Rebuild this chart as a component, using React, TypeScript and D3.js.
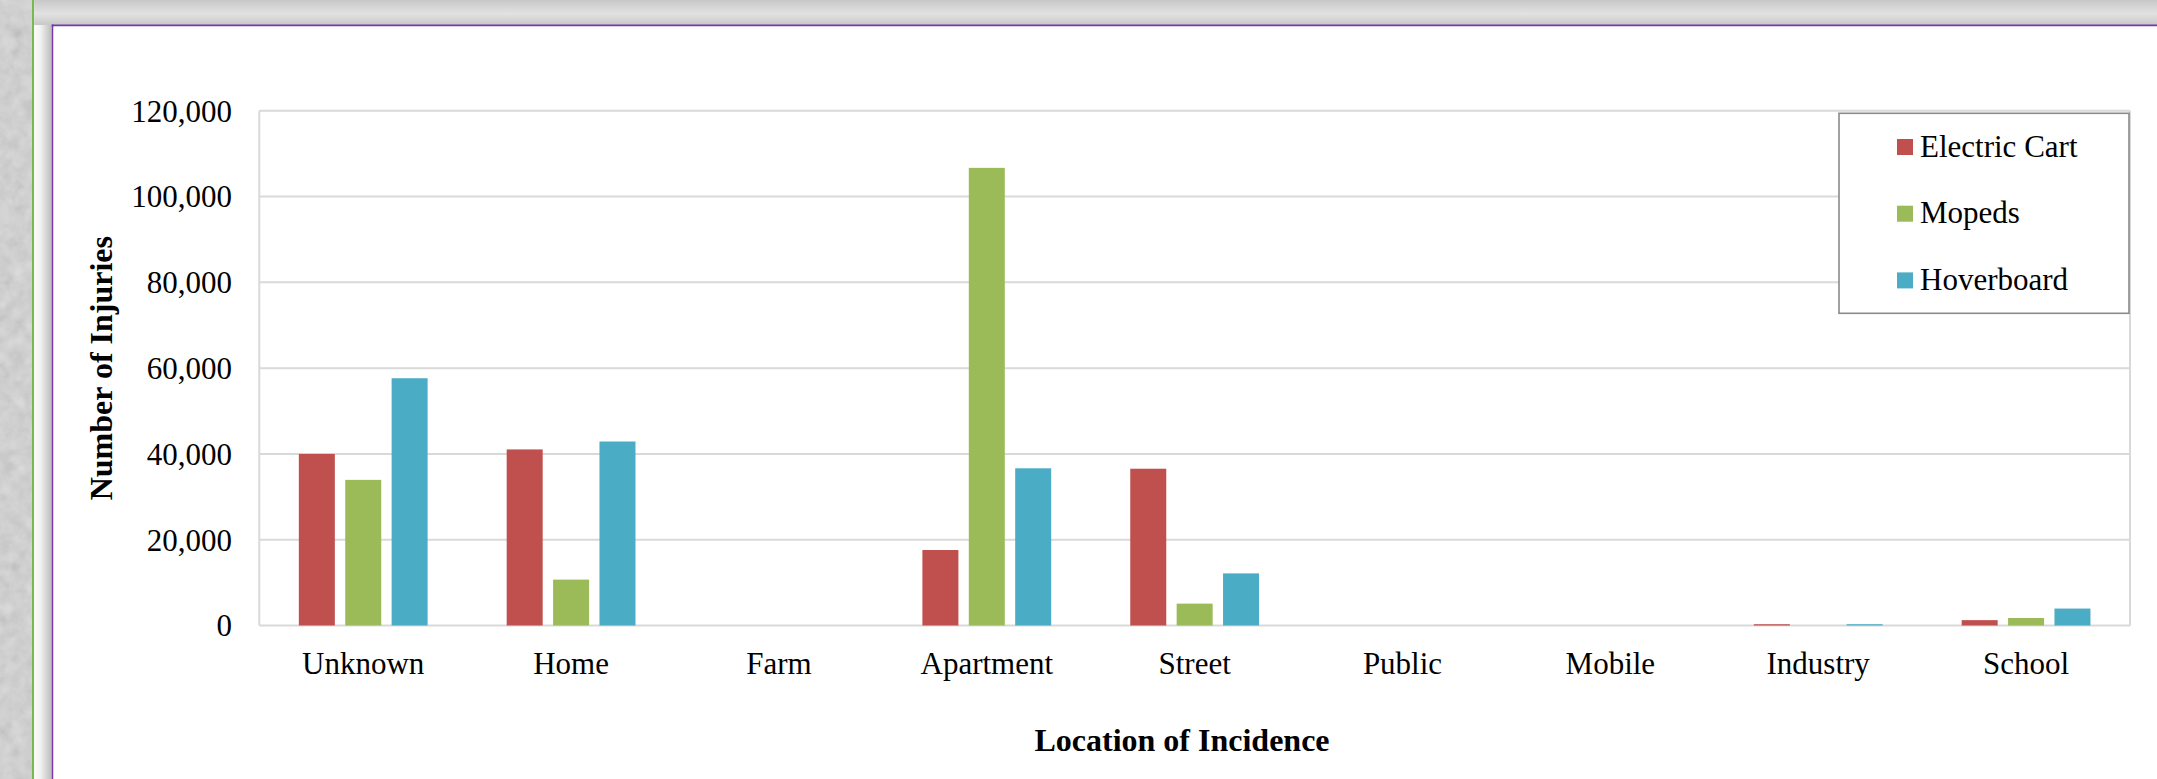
import React from "react";
import * as d3 from "d3";

// Injuries by location of incidence, per vehicle type
const locations = ["Unknown", "Home", "Farm", "Apartment", "Street", "Public", "Mobile", "Industry", "School"];
const seriesNames = ["Electric Cart", "Mopeds", "Hoverboard"];
const electricCart = [40000, 41050, 0, 17600, 36550, 0, 0, 300, 1250];
const mopeds = [33950, 10700, 0, 106700, 5100, 0, 0, 0, 1750];
const hoverboard = [57650, 42900, 0, 36650, 12150, 0, 0, 300, 3950];
const yTicks = [0, 20000, 40000, 60000, 80000, 100000, 120000];
const seriesColors = ["#C0504D", "#9BBB59", "#4BACC6"];

const W = 2157;
const H = 779;
const plot = { left: 259.3, right: 2130, top: 110.8, bottom: 625.5 };
const serif = "\"Liberation Serif\", \"Times New Roman\", Times, serif";
const textStyle = { fontFamily: serif, fontSize: "31px", fill: "#000" };

export default function App() {
  const seriesValues = [electricCart, mopeds, hoverboard];

  const x0 = d3.scaleBand<string>().domain(locations).range([plot.left, plot.right]).padding(0);
  const x1 = d3
    .scaleBand<string>()
    .domain(seriesNames)
    .range([0, x0.bandwidth()])
    .paddingInner(0.224)
    .paddingOuter(0.852);
  const y = d3.scaleLinear().domain([0, 120000]).range([plot.bottom, plot.top]);
  const fmt = d3.format(",");

  const legendX = 1839;
  const legendY = 113.3;
  const legendStep = 66.7;

  return (
    <svg
      width={W}
      height={H}
      viewBox={`0 0 ${W} ${H}`}
      style={{ position: "absolute", left: 0, top: 0, display: "block" }}
    >
      <defs>
        <filter id="grain" x="0" y="0" width="1" height="1">
          <feTurbulence type="fractalNoise" baseFrequency="0.08" numOctaves="4" seed="7" />
          <feColorMatrix
            type="matrix"
            values="0.33 0.33 0.33 0 0  0.33 0.33 0.33 0 0  0.33 0.33 0.33 0 0  0 0 0 0 0.3"
          />
        </filter>
        <linearGradient id="topBand" x1="0" y1="0" x2="0" y2="1">
          <stop offset="0" stopColor="#c8c8c8" />
          <stop offset="0.55" stopColor="#e2e2e2" />
          <stop offset="1" stopColor="#c8c8c8" />
        </linearGradient>
        <linearGradient id="sideBand" x1="0" y1="0" x2="1" y2="0">
          <stop offset="0" stopColor="#fbfbfb" />
          <stop offset="0.35" stopColor="#f2f2f2" />
          <stop offset="1" stopColor="#bcbcbc" />
        </linearGradient>
      </defs>

      {/* page frame */}
      <rect x={0} y={0} width={W} height={H} fill="#ffffff" />
      <rect x={0} y={0} width={33} height={H} fill="#d8d8d8" />
      <rect x={0} y={0} width={33} height={H} filter="url(#grain)" />
      <rect x={32} y={0} width={2.2} height={H} fill="#78b84c" />
      <rect x={34.2} y={0} width={W - 34.2} height={25} fill="url(#topBand)" />
      <rect x={34.2} y={25} width={17.5} height={H - 25} fill="url(#sideBand)" />
      <rect x={51.7} y={24.5} width={W - 51.7} height={2} fill="#7638ab" />
      <rect x={51.7} y={24.5} width={1.8} height={H - 24.5} fill="#7638ab" />
      <rect x={53.5} y={26.5} width={W - 53.5} height={H - 26.5} fill="#ffffff" />

      {/* gridlines */}
      {yTicks.map((t) => (
        <line
          key={t}
          x1={plot.left}
          x2={plot.right}
          y1={y(t)}
          y2={y(t)}
          stroke="#d9d9d9"
          strokeWidth={2}
        />
      ))}
      <line x1={plot.left} x2={plot.left} y1={plot.top} y2={plot.bottom} stroke="#d9d9d9" strokeWidth={2} />
      <line x1={plot.right} x2={plot.right} y1={plot.top} y2={plot.bottom} stroke="#d9d9d9" strokeWidth={2} />

      {/* bars */}
      {locations.map((loc, i) => (
        <g key={loc} transform={`translate(${x0(loc)},0)`}>
          {seriesNames.map((s, j) => {
            const v = seriesValues[j][i];
            if (v <= 0) return null;
            return (
              <rect
                key={s}
                x={x1(s)}
                y={y(v)}
                width={x1.bandwidth()}
                height={y(0) - y(v)}
                fill={seriesColors[j]}
              />
            );
          })}
        </g>
      ))}

      <g style={textStyle}>
        {/* y tick labels */}
        {yTicks.map((t) => (
          <text key={t} x={232} y={y(t)} dy="0.35em" textAnchor="end">
            {fmt(t)}
          </text>
        ))}

        {/* x category labels */}
        {locations.map((loc) => (
          <text key={loc} x={(x0(loc) as number) + x0.bandwidth() / 2} y={674} textAnchor="middle">
            {loc}
          </text>
        ))}

        {/* axis titles */}
        <text
          transform={`translate(111.5,${(plot.top + plot.bottom) / 2}) rotate(-90)`}
          textAnchor="middle"
          style={{ fontWeight: "bold", fontSize: "32px" }}
        >
          Number of Injuries
        </text>
        <text x={1182} y={750.7} textAnchor="middle" style={{ fontWeight: "bold", fontSize: "32px" }}>
          Location of Incidence
        </text>

        {/* legend */}
        <rect
          x={legendX}
          y={legendY}
          width={290}
          height={200}
          style={{ fill: "#ffffff", stroke: "#8a8a8a", strokeWidth: 1.6 }}
        />
        {seriesNames.map((s, j) => (
          <g key={s}>
            <rect
              x={1897}
              y={139 + j * legendStep}
              width={16}
              height={16}
              style={{ fill: seriesColors[j] }}
            />
            <text x={1920} y={156.7 + j * legendStep}>
              {s}
            </text>
          </g>
        ))}
      </g>
    </svg>
  );
}
